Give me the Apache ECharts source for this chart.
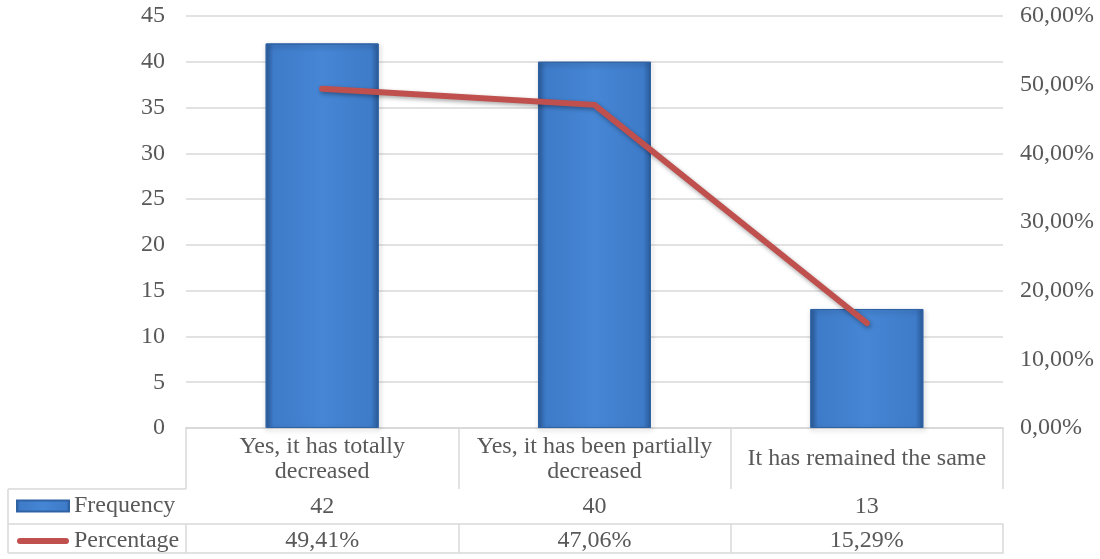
<!DOCTYPE html>
<html>
<head>
<meta charset="utf-8">
<script src="https://cdn.jsdelivr.net/npm/echarts@6/dist/echarts.min.js"></script>
<style>
  html, body { margin: 0; padding: 0; background: #fff; }
  #chart { width: 1100px; height: 559px; }
</style>
</head>
<body>
<div id="chart"></div>
<script>
// Survey answers and their counts / shares
const categories = ['Yes, it has totally\ndecreased', 'Yes, it has been partially\ndecreased', 'It has remained the same'];
const frequency = [42, 40, 13];
const percentage = [49.41, 47.06, 15.29];
const leftTicks = { min: 0, max: 45, step: 5 };
const rightTicks = { min: 0, max: 0.6, step: 0.1 };

const FONT = '"Liberation Serif", "Times New Roman", serif';
const TXT = '#595959';
const RULE = '#d9d9d9';
const FS = 24;

const fmtPct = v => v.toFixed(2).replace('.', ',') + '%';

// layout of the plot area and the data table rows under it
const G = { left: 186, right: 97, top: 16, bottom: 131 };
const rowH = [61, 35, 29];

const chart = echarts.init(document.getElementById('chart'), null, { renderer: 'canvas' });

function tableAxis(data, offset, tickLen, labelMargin, showLabel) {
  return {
    type: 'category',
    position: 'bottom',
    offset: offset,
    data: data,
    axisLine: { show: true, lineStyle: { color: RULE, width: 1.5 } },
    axisTick: { show: tickLen > 0, length: tickLen, lineStyle: { color: RULE, width: 1.5 } },
    axisLabel: {
      show: showLabel,
      interval: 0,
      margin: labelMargin,
      verticalAlign: 'middle',
      color: TXT,
      fontFamily: FONT,
      fontSize: FS,
      lineHeight: 25
    },
    splitLine: { show: false }
  };
}

const xAxes = [
  tableAxis(categories, 0, rowH[0], 31, true),
  tableAxis(frequency.map(String), rowH[0], rowH[1], 18, true),
  tableAxis(percentage.map(v => fmtPct(v)), rowH[0] + rowH[1], rowH[2], 17, true),
  tableAxis(categories, rowH[0] + rowH[1] + rowH[2], 0, 0, false)
];

const barFill = new echarts.graphic.LinearGradient(0, 0, 1, 0, [
  { offset: 0, color: '#2c5d9c' },
  { offset: 0.07, color: '#3e7bc9' },
  { offset: 0.5, color: '#4686d4' },
  { offset: 0.93, color: '#3e7bc9' },
  { offset: 1, color: '#2c5d9c' }
]);

const option = {
  animation: false,
  backgroundColor: '#ffffff',
  textStyle: { fontFamily: FONT },
  grid: { left: G.left, right: G.right, top: G.top, bottom: G.bottom, containLabel: false },
  legend: {
    orient: 'vertical',
    left: 16,
    top: 494,
    padding: 0,
    itemWidth: 52,
    itemHeight: 11,
    itemGap: 11,
    symbolKeepAspect: true,
    textStyle: { color: TXT, fontFamily: FONT, fontSize: FS, lineHeight: 24 },
    data: [
      { name: 'Frequency', icon: 'rect' },
      { name: 'Percentage', icon: 'path://M3,0 H49 A3,3 0 0 1 49,6 H3 A3,3 0 0 1 3,0 Z' }
    ]
  },
  xAxis: xAxes,
  yAxis: [
    {
      type: 'value',
      min: leftTicks.min, max: leftTicks.max, interval: leftTicks.step,
      axisLine: { show: false },
      axisTick: { show: false },
      splitLine: { show: true, lineStyle: { color: RULE, width: 1.5 } },
      axisLabel: { color: TXT, fontFamily: FONT, fontSize: FS, margin: 21 }
    },
    {
      type: 'value',
      position: 'right',
      min: rightTicks.min, max: rightTicks.max, interval: rightTicks.step,
      axisLine: { show: false },
      axisTick: { show: false },
      splitLine: { show: false },
      axisLabel: {
        color: TXT, fontFamily: FONT, fontSize: FS, margin: 17,
        formatter: v => fmtPct(v * 100)
      }
    }
  ],
  series: [
    {
      name: 'Frequency',
      type: 'bar',
      xAxisIndex: 0,
      yAxisIndex: 0,
      barWidth: '41.5%',
      data: frequency,
      itemStyle: {
        color: barFill,
        borderColor: '#2f62a3',
        borderWidth: 1,
        shadowColor: 'rgba(0,0,0,0.35)',
        shadowBlur: 5,
        shadowOffsetX: 1,
        shadowOffsetY: 2
      }
    },
    {
      name: 'Percentage',
      type: 'line',
      xAxisIndex: 0,
      yAxisIndex: 1,
      data: percentage.map(v => v / 100),
      symbol: 'none',
      itemStyle: { color: '#c0504d' },
      lineStyle: {
        color: '#c0504d',
        width: 6,
        cap: 'round',
        join: 'miter',
        shadowColor: 'rgba(0,0,0,0.35)',
        shadowBlur: 4,
        shadowOffsetX: 1,
        shadowOffsetY: 2
      }
    }
  ]
};

chart.setOption(option);

// borders of the legend column of the data table
const plotLeft = G.left;
const y0 = 559 - G.bottom;
const yRows = [y0 + rowH[0], y0 + rowH[0] + rowH[1], y0 + rowH[0] + rowH[1] + rowH[2]];
const tableLeft = 8;
const rule = { stroke: RULE, lineWidth: 1.5 };
chart.setOption({
  graphic: [
    ...yRows.map(y => ({ type: 'line', shape: { x1: tableLeft, y1: y, x2: plotLeft, y2: y }, style: rule, silent: true })),
    { type: 'line', shape: { x1: tableLeft, y1: yRows[0], x2: tableLeft, y2: yRows[2] }, style: rule, silent: true }
  ]
});
</script>
</body>
</html>
